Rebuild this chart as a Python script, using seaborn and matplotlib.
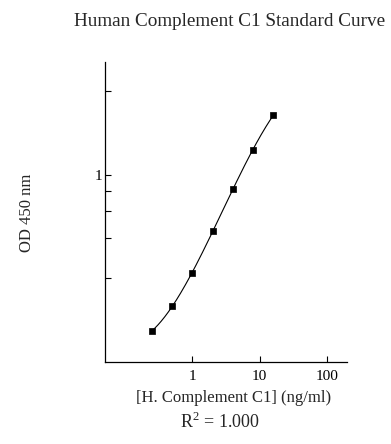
import numpy as np
import pandas as pd
import matplotlib
matplotlib.use("Agg")
import matplotlib.pyplot as plt
import seaborn as sns
from matplotlib.ticker import FixedLocator, NullFormatter, FixedFormatter

# Data
conc = [0.25, 0.5, 1, 2, 4, 8, 16]
od = [0.109, 0.155, 0.249, 0.451, 0.823, 1.43, 2.35]
x_ticks = [1, 10, 100]
x_tick_labels = ["1", "10", "100"]
y_ticks = [1]
y_tick_labels = ["1"]
y_minor = [0.231, 0.407, 0.596, 0.80, 3.31]

sns.set_style("ticks")
plt.rcParams["font.family"] = ["Liberation Serif", "DejaVu Serif"]
plt.rcParams["mathtext.fontset"] = "custom"
plt.rcParams["mathtext.rm"] = "Liberation Serif"

fig = plt.figure(figsize=(3.91, 4.44), dpi=100)
ax = fig.add_axes([105/391, 1 - 362/444, (347-105)/391, (362-62)/444])

df = pd.DataFrame({"conc": conc, "od": od})

# smooth fitted curve (cubic in log-log space)
lx = np.log10(df["conc"].values)
ly = np.log10(df["od"].values)
coef = np.polyfit(lx, ly, 3)
xs = np.linspace(lx.min(), lx.max(), 200)
fit = pd.DataFrame({"conc": 10**xs, "od": 10**np.polyval(coef, xs)})

sns.lineplot(data=fit, x="conc", y="od", ax=ax, color="black", linewidth=0.8)
sns.scatterplot(data=df, x="conc", y="od", ax=ax, marker="s", s=22,
                color="black", edgecolor="black", linewidth=0.5, zorder=3)

ax.set_xscale("log")
ax.set_yscale("log")
ax.set_xlim(0.05, 200)
ax.set_ylim(0.07, 5)

ax.xaxis.set_major_locator(FixedLocator(x_ticks))
ax.xaxis.set_major_formatter(FixedFormatter(x_tick_labels))
ax.xaxis.set_minor_locator(FixedLocator([]))
ax.yaxis.set_major_locator(FixedLocator(y_ticks))
ax.yaxis.set_major_formatter(FixedFormatter(y_tick_labels))
ax.yaxis.set_minor_locator(FixedLocator(y_minor))
ax.yaxis.set_minor_formatter(NullFormatter())

ax.tick_params(axis="both", which="both", direction="in", length=4.5,
               width=0.8, color="black", labelsize=11, labelcolor="black")
ax.tick_params(axis="x", pad=6)
ax.tick_params(axis="y", pad=2)

for side in ["top", "right"]:
    ax.spines[side].set_visible(False)
for side in ["left", "bottom"]:
    ax.spines[side].set_linewidth(0.9)
    ax.spines[side].set_color("black")

ax.set_xlabel("")
ax.set_ylabel("")

fig.text(230/391, 1 - 22/444, "Human Complement C1 Standard Curve",
         ha="center", va="center", fontsize=13.8)
fig.text(234/391, 1 - 398/444, "[H. Complement C1] (ng/ml)",
         ha="center", va="center", fontsize=12)
fig.text(220/391, 1 - 422/444, r"R$^2$ = 1.000",
         ha="center", va="center", fontsize=13)
fig.text(27/391, 1 - 213/444, "OD 450 nm", rotation=90,
         ha="center", va="center", fontsize=12)

fig.savefig("out.png", dpi=100, facecolor="white")
